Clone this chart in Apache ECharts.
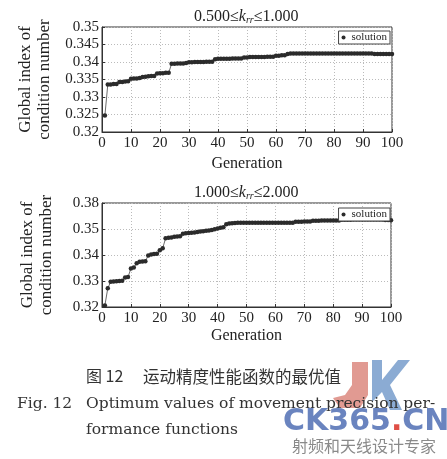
<!DOCTYPE html>
<html><head><meta charset="utf-8">
<script src="https://cdn.jsdelivr.net/npm/echarts@6/dist/echarts.min.js"></script>
<style>html,body{margin:0;padding:0;background:#fff}#c{width:447px;height:459px}</style>
</head><body><div id="c"></div>
<script>
var xTickLabels = ['0','10','20','30','40','50','60','70','80','90','100'];
var yTickLabelsTop = ['0.32','0.325','0.33','0.335','0.34','0.345','0.35'];
var yTickLabelsBottom = ['0.32','0.33','0.34','0.35','0.38'];
var seriesName = 'solution';
var titleTop = ['0.500≤', 'k', 'rr', '≤1.000'];
var titleBottom = ['1.000≤', 'k', 'rr', '≤2.000'];
var yName = 'Global index of\ncondition number';
var xName = 'Generation';

var valuesTop = [
 0.3247,
 0.3336,0.3336,0.3337,0.3337,
 0.3343,0.3343,0.3344,0.3345,
 0.3352,0.3353,0.3353,0.3354,
 0.3357,0.3358,0.3359,0.3360,0.3360,
 0.3367,0.3368,0.3368,0.3369,0.3369,
 0.3395,0.3395,0.3396,0.3396,0.3396,0.3397,
 0.3399,0.3399,0.3400,0.3400,0.3400,0.3400,0.3401,0.3401,0.3401,
 0.3408,0.3409,0.3409,0.3409,0.3409,0.3409,0.3410,0.3410,0.3410,0.3410,
 0.3413,0.3413,0.3414,0.3414,0.3414,0.3414,0.3414,0.3414,0.3415,0.3415,0.3415,
 0.3418,0.3418,0.3419,0.3419,
 0.3423,0.3424,0.3424,0.3424,0.3424,0.3424,0.3424,0.3424,0.3424,0.3424,
 0.3424,0.3424,0.3424,0.3424,0.3424,0.3424,0.3424,0.3424,0.3424,0.3424,
 0.3424,0.3424,0.3424,0.3424,0.3424,0.3424,0.3424,0.3424,0.3424,0.3424,
 0.3423,0.3423,0.3423,0.3423,0.3423,0.3423,0.3423
];
var valuesBottom = [
 0.3206,
 0.3272,
 0.3297,0.3298,0.3299,0.3300,0.3301,
 0.3313,0.3315,
 0.3348,0.3352,
 0.3368,0.3374,0.3375,0.3376,
 0.3398,0.3402,0.3404,0.3405,
 0.3418,0.3426,
 0.3464,0.3466,0.3467,
 0.3470,0.3471,0.3472,
 0.3482,0.3484,0.3485,0.3486,0.3487,0.3488,
 0.3490,0.3491,0.3493,0.3494,0.3496,
 0.3499,0.3502,0.3505,0.3507,
 0.3518,
 0.3521,0.3522,0.3523,0.3524,0.3524,0.3524,0.3524,0.3524,0.3524,0.3524,
 0.3524,0.3524,0.3524,0.3524,0.3524,0.3524,0.3524,0.3524,0.3524,0.3524,
 0.3524,0.3524,0.3524,
 0.3528,0.3528,0.3528,0.3529,0.3529,0.3529,
 0.3532,0.3532,0.3532,0.3533,0.3533,0.3533,0.3533,0.3533,0.3533,0.3533,
 0.3536,0.3536,0.3536,0.3536,0.3537,0.3537,0.3537,0.3537,0.3537,0.3537,
 0.3537,0.3537,0.3537,0.3537,0.3537,
 0.3535,0.3535,0.3534
];

function pairs(vals){ var out=[]; for(var i=0;i<vals.length;i++){ out.push([i+1, vals[i]]); } return out; }

var serif = 'Liberation Serif';
var chart = echarts.init(document.getElementById('c'), null, {renderer:'canvas'});

function xAxisCfg(gi, gap){
  return {
    type:'value', gridIndex:gi, min:0, max:100, interval:10,
    name: xName, nameLocation:'middle', nameGap:gap,
    nameTextStyle:{fontFamily:serif, fontSize:16, color:'#222'},
    axisLine:{show:true, lineStyle:{color:'#333', width:1}},
    axisTick:{show:true, inside:true, length:3, lineStyle:{color:'#333'}},
    axisLabel:{fontFamily:serif, fontSize:15, color:'#222', margin:4,
      formatter:function(v){ return xTickLabels[Math.round(v/10)]; }},
    splitLine:{show:true, lineStyle:{color:'#bbb', type:[1,2], width:1}}
  };
}
function yAxisCfg(gi, min, max, interval, labels){
  return {
    type:'value', gridIndex:gi, min:min, max:max, interval:interval,
    name: yName, nameLocation:'middle', nameGap:46, nameRotate:90,
    nameTextStyle:{fontFamily:serif, fontSize:17, color:'#222', lineHeight:19},
    axisLine:{show:true, lineStyle:{color:'#333', width:1}},
    axisTick:{show:true, inside:true, length:3, lineStyle:{color:'#333'}},
    axisLabel:{fontFamily:serif, fontSize:15, color:'#222', margin:3,
      formatter:function(v){ return labels[Math.round((v-min)/interval)]; }},
    splitLine:{show:true, lineStyle:{color:'#bbb', type:[1,2], width:1}}
  };
}
function seriesCfg(gi, vals){
  return {
    name: seriesName, type:'line', xAxisIndex:gi, yAxisIndex:gi,
    data: pairs(vals), symbol:'circle', symbolSize:4.5, showSymbol:true,
    lineStyle:{color:'#444', width:0.8}, itemStyle:{color:'#2b2b2b'},
    animation:false
  };
}
function legendCfg(top){
  return {
    data:[seriesName], right:57, top:top, orient:'horizontal',
    backgroundColor:'#fff', borderColor:'#444', borderWidth:1, borderRadius:0,
    padding:[1,3,1,3], itemWidth:10, itemHeight:4, itemGap:2,
    icon:'circle',
    textStyle:{fontFamily:serif, fontSize:11, color:'#222', padding:[0,0,0,-2]},
    selectedMode:false
  };
}
function titleText(parts){ return parts[0] + '{i|' + parts[1] + '}{s|' + parts[2] + '}' + parts[3]; }
var titleRich = {
  i:{fontFamily:serif, fontSize:16, fontStyle:'italic', color:'#222'},
  s:{fontFamily:serif, fontSize:10, fontStyle:'italic', color:'#222', verticalAlign:'bottom', padding:[6,0,0,0]}
};

var option = {
  backgroundColor:'#fff',
  animation:false,
  grid:[
    {left:102, right:55, top:27, height:105, show:true, borderColor:'#333', borderWidth:1, backgroundColor:'transparent'},
    {left:102, right:56, top:203, height:104, show:true, borderColor:'#333', borderWidth:1, backgroundColor:'transparent'}
  ],
  xAxis:[xAxisCfg(0, 24), xAxisCfg(1, 21)],
  yAxis:[
    yAxisCfg(0, 0.32, 0.35, 0.005, yTickLabelsTop),
    yAxisCfg(1, 0.32, 0.36, 0.01, yTickLabelsBottom)
  ],
  legend:[legendCfg(31), legendCfg(208)],
  series:[seriesCfg(0, valuesTop), seriesCfg(1, valuesBottom)],
  graphic:[
    {type:'text', left:194, top:9, style:{text:titleText(titleTop), font:'16px "Liberation Serif"', fill:'#222', rich:titleRich}},
    {type:'text', left:194, top:185, style:{text:titleText(titleBottom), font:'16px "Liberation Serif"', fill:'#222', rich:titleRich}},
    // watermark logo
    {type:'polygon', shape:{points:[[352,362],[368,362],[368,395],[360,408],[340,408],[333,398],[345,395],[352,385]]}, style:{fill:'rgba(215,120,110,0.75)'}},
    {type:'polygon', shape:{points:[[372,360],[382,360],[382,380],[398,360],[410,360],[390,385],[402,410],[390,410],[382,392],[372,402]]}, style:{fill:'rgba(110,150,200,0.8)'}},
    // caption
    {type:'text', left:86, top:368, style:{text:'图 12', font:'16px "Noto Sans CJK SC"', fill:'#333'}},
    {type:'text', left:143, top:368, style:{text:'运动精度性能函数的最优值', font:'16.5px "Noto Sans CJK SC"', fill:'#333'}},
    {type:'text', left:17, top:396, style:{text:'Fig. 12', font:'15.5px "DejaVu Serif"', fill:'#333'}},
    {type:'text', left:86, top:396, style:{text:'Optimum values of movement precision per-', font:'15.5px "DejaVu Serif"', fill:'#333'}},
    {type:'text', left:86, top:422, style:{text:'formance functions', font:'15.5px "DejaVu Serif"', fill:'#333'}},
    {type:'text', left:283, top:407, style:{text:'CK365{r|.}CN', font:'bold 30px "DejaVu Sans"', fill:'rgba(80,110,180,0.85)', rich:{r:{font:'bold 30px "DejaVu Sans"', fill:'rgba(220,60,50,0.9)'}}}},
    {type:'text', left:292, top:438, style:{text:'射频和天线设计专家', font:'16px "Noto Sans CJK SC"', fill:'#8a8a8a'}}
  ]
};
chart.setOption(option);
</script></body></html>
